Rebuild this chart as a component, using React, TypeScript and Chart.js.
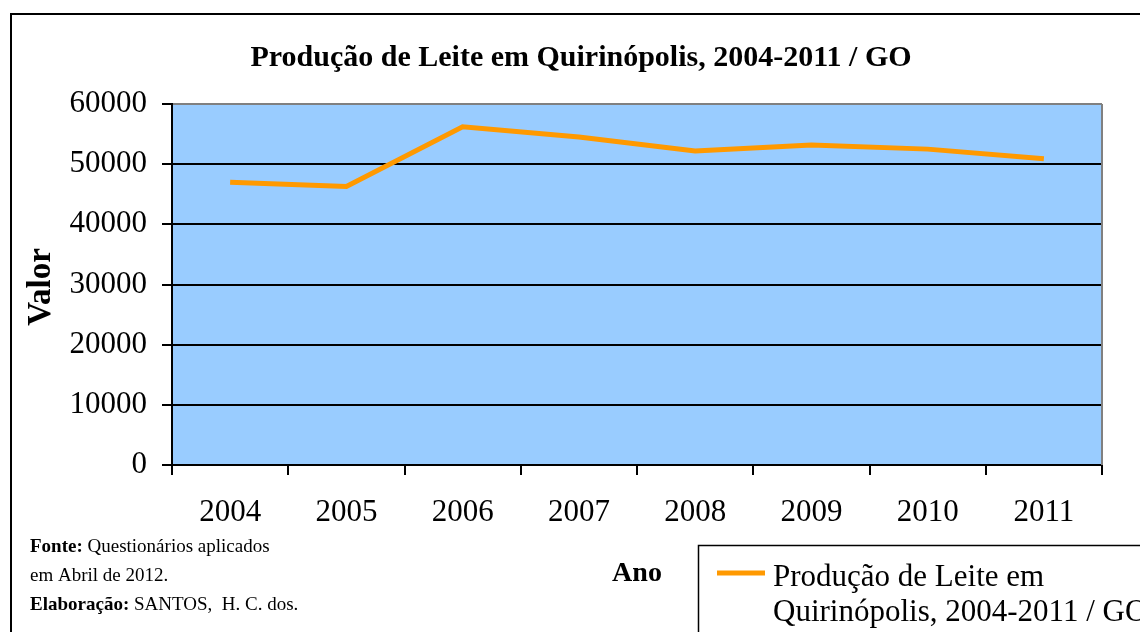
import React, { useEffect, useRef } from "react";
import { Chart, registerables } from "chart.js";

Chart.register(...registerables);

const years: string[] = ["2004", "2005", "2006", "2007", "2008", "2009", "2010", "2011"];
const milkProduction: number[] = [47000, 46300, 56200, 54500, 52200, 53200, 52500, 50900];
const seriesLabel = "Produção de Leite em Quirinópolis, 2004-2011 / GO";
const legendLines: string[] = ["Produção de Leite em", "Quirinópolis, 2004-2011 / GO"];
const chartTitle = "Produção de Leite em Quirinópolis, 2004-2011 / GO";
const yTitle = "Valor";
const xTitle = "Ano";
const yMin = 0;
const yMax = 60000;
const yStep = 10000;

const SERIF = "'Liberation Serif', 'Times New Roman', serif";

const decorPlugin = {
  id: "decor",
  beforeDraw(chart: any) {
    const { ctx, chartArea } = chart;
    ctx.save();
    ctx.fillStyle = "#99CCFF";
    ctx.fillRect(chartArea.left, chartArea.top, chartArea.right - chartArea.left, chartArea.bottom - chartArea.top);
    ctx.restore();
  },
  afterDraw(chart: any) {
    const { ctx, chartArea } = chart;
    ctx.save();
    // right plot border (gray)
    ctx.strokeStyle = "#808080";
    ctx.lineWidth = 2;
    ctx.beginPath();
    ctx.moveTo(chartArea.right, chartArea.top);
    ctx.lineTo(chartArea.right, chartArea.bottom);
    ctx.stroke();

    // outer border
    ctx.strokeStyle = "#000";
    ctx.lineWidth = 2;
    ctx.strokeRect(11, 14, 1160, 660);

    // title
    ctx.fillStyle = "#000";
    ctx.font = `bold 30px ${SERIF}`;
    ctx.textAlign = "center";
    ctx.textBaseline = "alphabetic";
    ctx.fillText(chartTitle, 581, 66);

    // y title
    ctx.save();
    ctx.translate(50, 287);
    ctx.rotate(-Math.PI / 2);
    ctx.font = `bold 33px ${SERIF}`;
    ctx.textAlign = "center";
    ctx.textBaseline = "alphabetic";
    ctx.fillText(yTitle, 0, 0);
    ctx.restore();

    // x title
    ctx.font = `bold 28px ${SERIF}`;
    ctx.textAlign = "center";
    ctx.textBaseline = "middle";
    ctx.fillText(xTitle, (chartArea.left + chartArea.right) / 2, 574);

    // footer notes
    ctx.textAlign = "left";
    ctx.textBaseline = "alphabetic";
    const drawParts = (parts: [string, boolean][], x: number, y: number) => {
      let cx = x;
      for (const [t, bold] of parts) {
        ctx.font = `${bold ? "bold " : ""}19px ${SERIF}`;
        ctx.fillText(t, cx, y);
        cx += ctx.measureText(t).width;
      }
    };
    drawParts([["Fonte:", true], [" Questionários aplicados", false]], 30, 552);
    drawParts([["em Abril de 2012.", false]], 30, 581);
    drawParts([["Elaboração:", true], [" SANTOS,  H. C. dos.", false]], 30, 610);

    // legend box
    ctx.strokeStyle = "#000";
    ctx.lineWidth = 1.5;
    ctx.strokeRect(698.5, 545.5, 600, 200);
    const ds = chart.data.datasets[0];
    ctx.strokeStyle = ds.borderColor;
    ctx.lineWidth = 5;
    ctx.beginPath();
    ctx.moveTo(717, 573);
    ctx.lineTo(765, 573);
    ctx.stroke();
    ctx.fillStyle = "#000";
    ctx.font = `31px ${SERIF}`;
    ctx.textAlign = "left";
    ctx.textBaseline = "alphabetic";
    ctx.fillText(legendLines[0], 773, 586);
    ctx.fillText(legendLines[1], 773, 621);
    ctx.restore();
  },
};

export default function App() {
  const ref = useRef<HTMLCanvasElement | null>(null);
  useEffect(() => {
    if (!ref.current) return;
    const chart = new Chart(ref.current, {
      type: "line",
      data: {
        labels: years,
        datasets: [
          {
            label: seriesLabel,
            data: milkProduction,
            borderColor: "#FF9900",
            backgroundColor: "#FF9900",
            borderWidth: 5,
            pointRadius: 0,
            pointHoverRadius: 0,
            tension: 0,
            fill: false,
          },
        ],
      },
      options: {
        animation: false,
        responsive: false,
        maintainAspectRatio: false,
        layout: { padding: { top: 104, left: 10, right: 38, bottom: 0 } },
        plugins: {
          legend: { display: false },
          title: { display: false },
          tooltip: { enabled: false },
        },
        scales: {
          x: {
            type: "category",
            offset: true,
            afterFit: (s: any) => {
              s.height = 167;
            },
            grid: {
              display: true,
              drawOnChartArea: false,
              drawTicks: true,
              offset: true,
              tickLength: 10,
              color: "#000",
              lineWidth: 2,
            },
            border: { display: true, color: "#000", width: 2 },
            ticks: {
              color: "#000",
              font: { family: SERIF, size: 31 },
              padding: 19,
              maxRotation: 0,
              autoSkip: false,
            },
          },
          y: {
            min: yMin,
            max: yMax,
            afterFit: (s: any) => {
              s.width = 162;
            },
            grid: {
              drawTicks: true,
              tickLength: 10,
              color: (c: any) => (c.tick && c.tick.value === yMax ? "#808080" : "#000"),
              tickColor: "#000",
              lineWidth: 2,
            },
            border: { display: true, color: "#000", width: 2 },
            ticks: {
              stepSize: yStep,
              color: "#000",
              font: { family: SERIF, size: 31 },
              padding: 15,
              callback: (v: any) => String(v),
            },
          },
        },
      },
      plugins: [decorPlugin],
    });
    return () => chart.destroy();
  }, []);
  return (
    <div style={{ position: "absolute", left: 0, top: 0, width: 1140, height: 632, background: "#fff" }}>
      <canvas ref={ref} width={1140} height={632} style={{ display: "block", width: 1140, height: 632 }} />
    </div>
  );
}
